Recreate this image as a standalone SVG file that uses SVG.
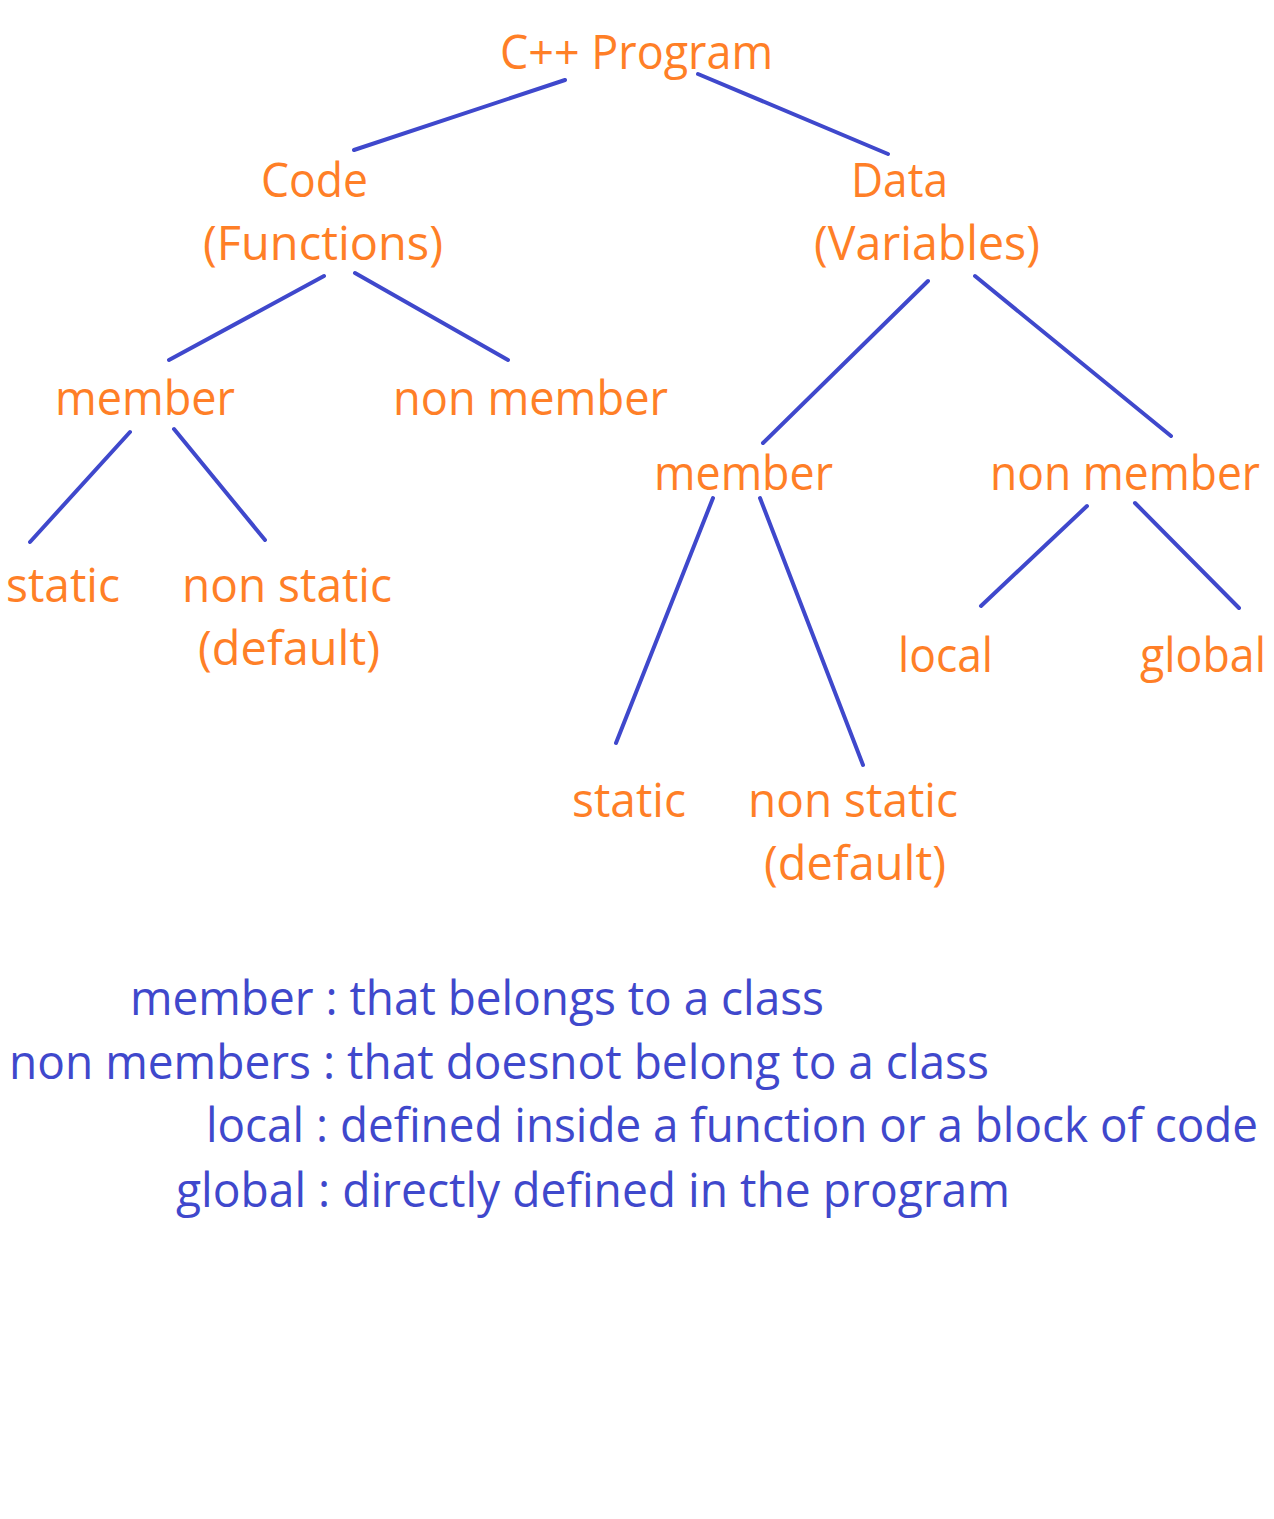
<svg xmlns="http://www.w3.org/2000/svg" width="1274" height="1519" viewBox="0 0 1274 1519">
<style>
.n{font-family:"Open Sans","Noto Sans","Liberation Sans",sans-serif;font-size:47px;fill:#FF7F27}
.l{font-family:"Open Sans","Noto Sans","Liberation Sans",sans-serif;font-size:47px;fill:#3F48CC}
.c line{stroke:#3F48CC;stroke-width:4;stroke-linecap:round}
</style>
<rect width="1274" height="1519" fill="#fff"/>
<g class="c" id="connectors">
<line x1="565" y1="80" x2="354" y2="150"/>
<line x1="698" y1="74" x2="888" y2="154"/>
<line x1="324" y1="276" x2="169" y2="360"/>
<line x1="355" y1="273" x2="508" y2="360"/>
<line x1="928" y1="281" x2="763" y2="443"/>
<line x1="975" y1="276" x2="1171" y2="436"/>
<line x1="130" y1="432" x2="30" y2="542"/>
<line x1="174" y1="429" x2="265" y2="540"/>
<line x1="713" y1="498" x2="616" y2="743"/>
<line x1="760" y1="498" x2="863" y2="765"/>
<line x1="1087" y1="506" x2="981" y2="606"/>
<line x1="1135" y1="503" x2="1239" y2="608"/>
</g>
<g id="root"><text class="n" x="500" y="69" textLength="273" lengthAdjust="spacingAndGlyphs">C++ Program</text></g>
<g id="code"><text class="n" x="261" y="197" textLength="107" lengthAdjust="spacingAndGlyphs">Code</text><text class="n" x="203" y="260" textLength="240" lengthAdjust="spacingAndGlyphs">(Functions)</text></g>
<g id="data"><text class="n" x="851" y="197" textLength="97" lengthAdjust="spacingAndGlyphs">Data</text><text class="n" x="814" y="260" textLength="226" lengthAdjust="spacingAndGlyphs">(Variables)</text></g>
<g id="code-member"><text class="n" x="55" y="415" textLength="180" lengthAdjust="spacingAndGlyphs">member</text></g>
<g id="code-nonmember"><text class="n" x="393" y="415" textLength="275" lengthAdjust="spacingAndGlyphs">non member</text></g>
<g id="code-static"><text class="n" x="6" y="602" textLength="114" lengthAdjust="spacingAndGlyphs">static</text></g>
<g id="code-nonstatic"><text class="n" x="182" y="602" textLength="210" lengthAdjust="spacingAndGlyphs">non static</text><text class="n" x="198" y="665" textLength="182" lengthAdjust="spacingAndGlyphs">(default)</text></g>
<g id="data-member"><text class="n" x="654" y="490" textLength="179" lengthAdjust="spacingAndGlyphs">member</text></g>
<g id="data-nonmember"><text class="n" x="990" y="490" textLength="270" lengthAdjust="spacingAndGlyphs">non member</text></g>
<g id="data-local"><text class="n" x="898" y="672" textLength="95" lengthAdjust="spacingAndGlyphs">local</text></g>
<g id="data-global"><text class="n" x="1140" y="672" textLength="126" lengthAdjust="spacingAndGlyphs">global</text></g>
<g id="data-static"><text class="n" x="572" y="817" textLength="114" lengthAdjust="spacingAndGlyphs">static</text></g>
<g id="data-nonstatic"><text class="n" x="748" y="817" textLength="210" lengthAdjust="spacingAndGlyphs">non static</text><text class="n" x="764" y="880" textLength="182" lengthAdjust="spacingAndGlyphs">(default)</text></g>
<g id="legend">
<text class="l" x="130" y="1015" textLength="694" lengthAdjust="spacingAndGlyphs">member : that belongs to a class</text>
<text class="l" x="9" y="1079" textLength="980" lengthAdjust="spacingAndGlyphs">non members : that doesnot belong to a class</text>
<text class="l" x="206" y="1142" textLength="1052" lengthAdjust="spacingAndGlyphs">local : defined inside a function or a block of code</text>
<text class="l" x="176" y="1207" textLength="834" lengthAdjust="spacingAndGlyphs">global : directly defined in the program</text>
</g>
</svg>
